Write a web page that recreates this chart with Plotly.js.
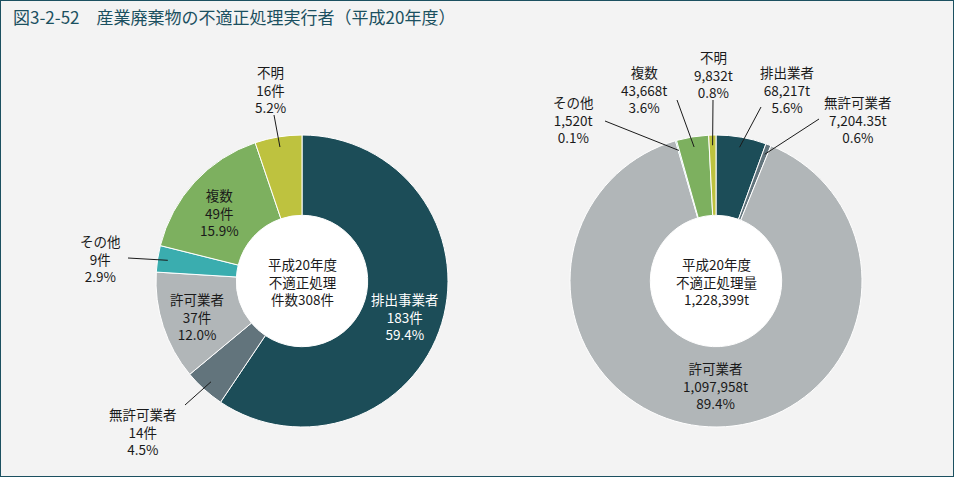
<!DOCTYPE html>
<html>
<head>
<meta charset="utf-8">
<script src="https://cdn.plot.ly/plotly-3.0.1.min.js"></script>
<style>
  html, body { margin: 0; padding: 0; background: #f3f3f3; }
  #chart { width: 954px; height: 477px; }
</style>
</head>
<body>
<div id="chart"></div>
<script>
// 平成20年度 不適正処理実行者 (件数 / 量)
const leftLabels = ['排出事業者', '無許可業者', '許可業者', 'その他', '複数', '不明'];
const leftValues = [183, 14, 37, 9, 49, 16];
const leftPct = ['59.4%', '4.5%', '12.0%', '2.9%', '15.9%', '5.2%'];

const rightLabels = ['排出業者', '無許可業者', '許可業者', 'その他', '複数', '不明'];
const rightValues = [68217, 7204.35, 1097958, 1520, 43668, 9832];
const rightPct = ['5.6%', '0.6%', '89.4%', '0.1%', '3.6%', '0.8%'];

const sliceColors = ['#1c4d58', '#62747c', '#b1b6b8', '#3aadaf', '#7db05f', '#bec23f'];

const W = 954, H = 477;
const R = 146;
const left = {cx: 302, cy: 281};
const right = {cx: 716, cy: 281};

// label block centres (px) and leader line start
const leftPos = [
  {x: 405, y: 316, inside: true, white: true},
  {x: 143, y: 431, lx: 185, ly: 405},
  {x: 197, y: 316, inside: true},
  {x: 100, y: 258, lx: 128, ly: 258},
  {x: 219, y: 212, inside: true},
  {x: 270, y: 89, lx: 274, ly: 115}
];
const rightPos = [
  {x: 787, y: 89, lx: 761, ly: 107},
  {x: 858, y: 120, lx: 819, ly: 119},
  {x: 715, y: 385, inside: true},
  {x: 573, y: 120, lx: 605, ly: 121},
  {x: 644, y: 89, lx: 677, ly: 100},
  {x: 713, y: 74, lx: 713, ly: 100}
];

const px = v => v / W;
const py = v => 1 - v / H;

function domainOf(c) {
  return {x: [px(c.cx - R), px(c.cx + R)], y: [py(c.cy + R), py(c.cy - R)]};
}

// point on the slice middle, clockwise from 12 o'clock
function tip(values, i, c, k) {
  const total = values.reduce((a, b) => a + b, 0);
  let cum = 0;
  for (let j = 0; j < i; j++) cum += values[j];
  const ang = 2 * Math.PI * (cum + values[i] / 2) / total;
  return {x: c.cx + k * R * Math.sin(ang), y: c.cy - k * R * Math.cos(ang)};
}

const font = "'Noto Sans CJK JP', 'Noto Sans', sans-serif";

function pieTrace(labels, values, c) {
  return {
    type: 'pie',
    labels: labels,
    values: values,
    sort: false,
    direction: 'clockwise',
    rotation: 0,
    hole: 0.45,
    textinfo: 'none',
    hoverinfo: 'label+value+percent',
    marker: {colors: sliceColors, line: {color: '#ffffff', width: 1}},
    domain: domainOf(c),
    showlegend: false
  };
}

const annotations = [];
const shapes = [];

function addLabels(labels, texts, pos, values, c) {
  for (let i = 0; i < labels.length; i++) {
    const p = pos[i];
    annotations.push({
      xref: 'paper', yref: 'paper',
      x: px(p.x), y: py(p.y),
      xanchor: 'center', yanchor: 'middle',
      text: texts[i],
      showarrow: false,
      align: 'center',
      font: {family: font, size: 13.5, color: p.white ? '#ffffff' : '#1a1a1a'}
    });
    if (!p.inside) {
      const t = tip(values, i, c, 0.93);
      shapes.push({
        type: 'line', xref: 'paper', yref: 'paper',
        x0: px(p.lx), y0: py(p.ly), x1: px(t.x), y1: py(t.y),
        line: {color: '#1a1a1a', width: 1}
      });
    }
  }
}

const leftTexts = leftLabels.map((l, i) => l + '<br>' + leftValues[i] + '件<br>' + leftPct[i]);
const rightTexts = rightLabels.map((l, i) =>
  l + '<br>' + rightValues[i].toLocaleString('en-US') + 't<br>' + rightPct[i]);

addLabels(leftLabels, leftTexts, leftPos, leftValues, left);
addLabels(rightLabels, rightTexts, rightPos, rightValues, right);

const leftTotal = leftValues.reduce((a, b) => a + b, 0);
const rightTotal = Math.floor(rightValues.reduce((a, b) => a + b, 0));

[[left, '平成20年度<br>不適正処理<br>件数' + leftTotal + '件'],
 [right, '平成20年度<br>不適正処理量<br>' + rightTotal.toLocaleString('en-US') + 't']].forEach(([c, txt]) => {
  annotations.push({
    xref: 'paper', yref: 'paper',
    x: px(c.cx), y: py(c.cy),
    xanchor: 'center', yanchor: 'middle',
    text: txt, showarrow: false, align: 'center',
    font: {family: font, size: 13.5, color: '#1a1a1a'}
  });
  // white hole
  shapes.push({
    type: 'circle', xref: 'paper', yref: 'paper', layer: 'below',
    x0: px(c.cx - R * 0.45), x1: px(c.cx + R * 0.45),
    y0: py(c.cy + R * 0.45), y1: py(c.cy - R * 0.45),
    fillcolor: '#ffffff', line: {width: 0}
  });
});

// frame
shapes.push({
  type: 'rect', xref: 'paper', yref: 'paper',
  x0: 0, x1: 1, y0: 0, y1: 1,
  line: {color: '#1b5060', width: 2}
});

const layout = {
  width: W,
  height: H,
  margin: {l: 0, r: 0, t: 0, b: 0},
  paper_bgcolor: '#f3f3f3',
  title: {
    text: '図3-2-52　産業廃棄物の不適正処理実行者（平成20年度）',
    x: px(13), xanchor: 'left', xref: 'paper',
    y: py(18), yanchor: 'middle', yref: 'paper',
    font: {family: font, size: 17, color: '#1b5060'}
  },
  annotations: annotations,
  shapes: shapes
};

Plotly.newPlot('chart', [pieTrace(leftLabels, leftValues, left), pieTrace(rightLabels, rightValues, right)],
  layout, {displayModeBar: false});
</script>
</body>
</html>
